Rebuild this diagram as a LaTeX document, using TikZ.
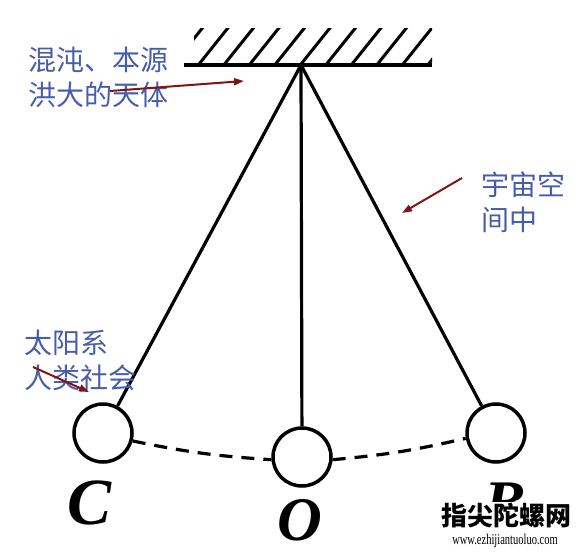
\documentclass[tikz,border=0pt]{standalone}
\usepackage{fontspec}
\setmainfont{Liberation Serif}
\newfontfamily\cjk{Noto Sans CJK SC}
\usetikzlibrary{arrows.meta}
\definecolor{txtblue}{RGB}{72,92,172}
\definecolor{arrred}{RGB}{128,20,24}
\tikzset{
  bob/.style={circle,draw=black,line width=3.5pt,minimum size=58pt,inner sep=0pt,fill=white},
  rod/.style={line width=3.2pt,black},
  cn/.style={anchor=west,align=left,inner sep=0pt,text=txtblue,font=\cjk\fontsize{28}{35}\selectfont},
  pointer/.style={arrred,line width=2pt,-{Triangle[length=10pt,width=7pt]}},
  letter/.style={inner sep=0pt,font=\bfseries\itshape\fontsize{62}{62}\selectfont}
}
\begin{document}
\begin{tikzpicture}[x=1pt,y=-1pt]
\useasboundingbox (0,0) rectangle (584,555);
% ceiling
\begin{scope}
\clip (194,28) rectangle (432,64);
\foreach \i in {0,...,10} {
  \draw[line width=3pt] (172+\i*25.5,66) -- (204+\i*25.5,26);
}
\end{scope}
\coordinate (L) at (184,65);
\coordinate (R) at (432,65);
\draw[line width=4pt] (L) -- (R);
\coordinate (P) at (301,65);
% bobs
\node[bob] (C) at (103,433) {};
\node[bob] (O) at (302,457) {};
\node[bob] (B) at (496,433) {};
\draw[rod] (P) -- (C);
\draw[rod] (P) -- (O);
\draw[rod] (P) -- (B);
\draw[line width=3.2pt,dash pattern=on 13pt off 9pt] (C.-15) to[bend right=4] (O.185);
\draw[line width=3.2pt,dash pattern=on 13pt off 9pt] (O.-5) to[bend right=4] (B.190);
% letters
\node[letter,font=\bfseries\itshape\fontsize{66}{66}\selectfont] (lc) at (90,503) {C};
\node[letter] (lo) at (300,520) {O};
\node[letter] (lb) at (505,503) {B};
% texts
\node[cn] (t1) at (28,77) {混沌、本源\\洪大的天体};
\node[cn] (t2) at (481,202) {宇宙空\\间中};
\node[cn] (t3) at (24,360) {太阳系\\人类社会};
% arrows
\coordinate (a1s) at (110,91);
\coordinate (a1e) at (244,81);
\draw[pointer] (a1s) -- (a1e);
\coordinate (a2s) at (462,178);
\coordinate (a2e) at (402,213);
\draw[pointer] (a2s) -- (a2e);
\coordinate (a3s) at (33,367);
\coordinate (a3e) at (89,392);
\draw[pointer] (a3s) -- (a3e);
% watermark
\node[fill=white,inner sep=0.5pt,font=\cjk\bfseries\fontsize{26}{26}\selectfont] (wm) at (506,515) {指尖陀螺网};
\node[inner sep=0pt,font=\fontsize{15}{15}\selectfont] (url) at (505,541) {\scalebox{0.7}[1]{www.ezhijiantuoluo.com}};
\end{tikzpicture}
\end{document}
